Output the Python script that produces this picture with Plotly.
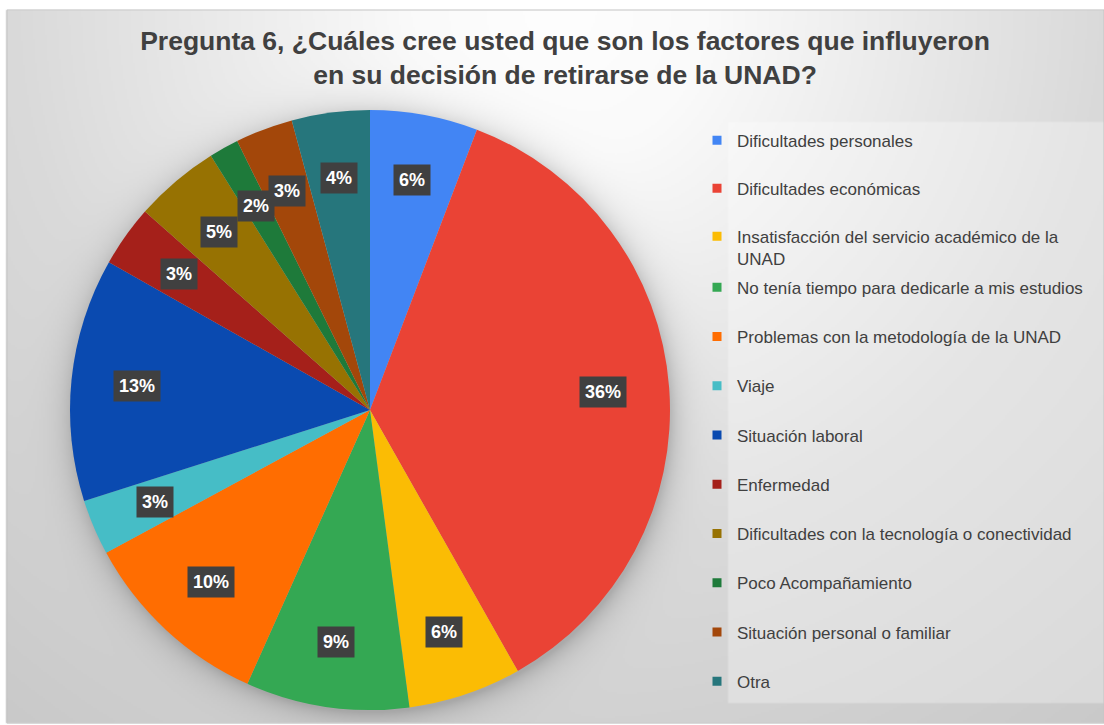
import base64, struct, zlib, math
import numpy as np
import plotly.graph_objects as go

# ---------------- data ----------------
categories = [
    "Dificultades personales",
    "Dificultades económicas",
    "Insatisfacción del servicio académico de la<br>UNAD",
    "No tenía tiempo para dedicarle a mis estudios",
    "Problemas con la metodología de la UNAD",
    "Viaje",
    "Situación laboral",
    "Enfermedad",
    "Dificultades con la tecnología o conectividad",
    "Poco Acompañamiento",
    "Situación personal o familiar",
    "Otra",
]
values = [5.8, 36.0, 6.1, 8.8, 10.4, 3.0, 13.1, 3.3, 4.6, 1.6, 3.1, 4.2]
colors = ["#4285F4", "#EA4335", "#FBBC04", "#34A853", "#FF6D01", "#46BDC6",
          "#0A4AB0", "#A5201A", "#977202", "#1E7A3A", "#A3470A", "#26767C"]
title_text = ("Pregunta 6, ¿Cuáles cree usted que son los factores que influyeron"
              "<br>en su decisión de retirarse de la UNAD?")

W, H = 1104, 725
FONT = "Liberation Sans, Arial, sans-serif"
CX, CY, R = 370.0, 410.0, 300.0   # pie geometry in pixels (layout)

# ---------------- background image (radial gradient + pie shadow) ----------------
def make_bg(scale=2):
    w, h = W // scale, int(math.ceil(H / scale))
    ys, xs = np.mgrid[0:h, 0:w].astype(float)
    X = (xs + 0.5) * scale
    Y = (ys + 0.5) * scale
    d = np.hypot(X - 560, Y - 10)
    c = np.interp(d, [0, 150, 540, 884, 1200], [254, 250, 218, 202, 196])
    # legend panel, slightly lighter
    inl = (X >= 729) & (Y >= 122) & (Y <= 704)
    c = np.where(inl, c + (255 - c) * 0.3, c)
    # soft pie shadow
    ds = np.hypot(X - (CX + 2), Y - (CY + 5))
    a = np.where(ds >= R - 2, 0.20 * np.exp(-np.clip(ds - (R - 2), 0, None) / 13.0), 0.2)
    c = c * (1 - a)
    # white outside frame
    inside = (X >= 7) & (Y >= 10) & (Y <= 723)
    c = np.where(inside, c, 255)
    arr = np.clip(c, 0, 255).astype(np.uint8)
    rgb = np.stack([arr, arr, arr], axis=-1)
    raw = b"".join(b"\x00" + rgb[y].tobytes() for y in range(h))

    def chunk(tag, data):
        return (struct.pack(">I", len(data)) + tag + data +
                struct.pack(">I", zlib.crc32(tag + data) & 0xFFFFFFFF))
    png = (b"\x89PNG\r\n\x1a\n" +
           chunk(b"IHDR", struct.pack(">IIBBBBB", w, h, 8, 2, 0, 0, 0)) +
           chunk(b"IDAT", zlib.compress(raw, 9)) + chunk(b"IEND", b""))
    return "data:image/png;base64," + base64.b64encode(png).decode()

bg = make_bg()

fig = go.Figure()

fig.add_trace(go.Pie(
    labels=categories,
    values=values,
    marker=dict(colors=colors, line=dict(width=0)),
    sort=False,
    direction="clockwise",
    rotation=0,
    textinfo="none",
    hoverinfo="label+percent",
    showlegend=False,
    domain=dict(x=[(CX - R) / W, (CX + R) / W], y=[1 - (CY + R) / H, 1 - (CY - R) / H]),
))

# legend entries (one per category), split into two legends for spacing control
for i, (cat, col) in enumerate(zip(categories, colors)):
    fig.add_trace(go.Scatter(
        x=[None], y=[None], mode="markers",
        marker=dict(symbol="square", size=9, color=col),
        name=cat, legendgroup=f"g{i}", showlegend=True,
        legend="legend" if i < 3 else "legend2",
        hoverinfo="skip",
    ))

# percentage labels in dark boxes, positioned from data
total = sum(values)
cum = 0.0
annotations = []
for v in values:
    mid = (cum + v / 2) / total * 2 * math.pi
    cum += v
    f = 0.78
    px = CX + R * f * math.sin(mid)
    py = CY - R * f * math.cos(mid)
    annotations.append(dict(
        x=px / W, y=1 - py / H, xref="paper", yref="paper",
        text=f"{round(v / total * 100)}%",
        showarrow=False, bgcolor="#404040", borderpad=5,
        font=dict(family=FONT, size=18, color="white", weight="bold"),
        xanchor="center", yanchor="middle",
    ))

legend_common = dict(
    font=dict(family=FONT, size=17, color="#404040"),
    bgcolor="rgba(0,0,0,0)", traceorder="grouped", valign="top",
    itemsizing="trace", xanchor="left", yanchor="top", itemclick=False,
)

fig.update_layout(
    width=W, height=H,
    margin=dict(l=0, r=0, t=0, b=0),
    paper_bgcolor="white", plot_bgcolor="rgba(0,0,0,0)",
    xaxis=dict(visible=False), yaxis=dict(visible=False),
    title=dict(text=title_text, x=565 / W, xanchor="center",
               y=1 - 50 / H, yanchor="top",
               font=dict(family=FONT, size=26.5, color="#404040", weight="bold")),
    legend=dict(x=697 / W, y=1 - 122.7 / H, tracegroupgap=22.9, **legend_common),
    legend2=dict(x=697 / W, y=1 - 269.7 / H, tracegroupgap=24.15, **legend_common),
    annotations=annotations,
    images=[dict(source=bg, xref="paper", yref="paper", x=0, y=1,
                 sizex=1, sizey=1, sizing="stretch", xanchor="left",
                 yanchor="top", layer="below")],
    shapes=[dict(type="rect", xref="paper", yref="paper",
                 x0=7 / W, x1=1.0, y0=1 - 723 / H, y1=1 - 10 / H,
                 line=dict(color="#c4c4c4", width=1), layer="below")],
    showlegend=True,
)

fig.write_html("out.html", config={"displayModeBar": False},
               post_script="document.body.style.margin='0';document.body.style.overflow='hidden';")
